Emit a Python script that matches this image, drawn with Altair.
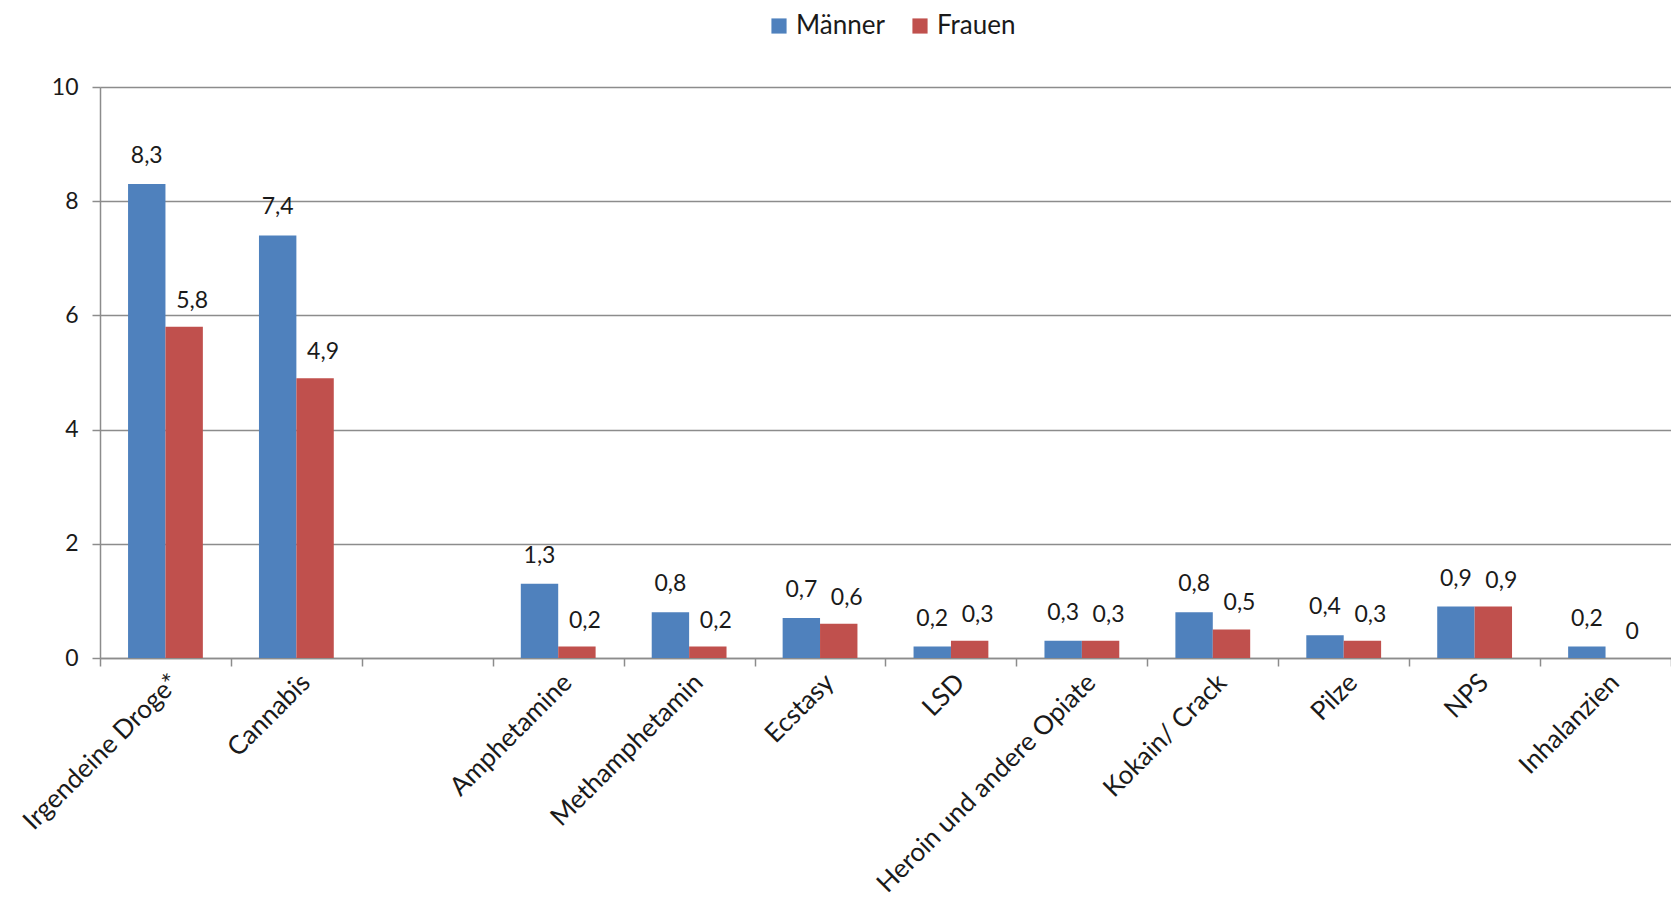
import altair as alt
import pandas as pd

# Kategorien (die leere Kategorie trennt "Cannabis" von den Einzelsubstanzen)
categories = [
    "Irgendeine Droge*", "Cannabis", " ", "Amphetamine", "Methamphetamin",
    "Ecstasy", "LSD", "Heroin und andere Opiate", "Kokain/ Crack",
    "Pilze", "NPS", "Inhalanzien",
]
maenner = [8.3, 7.4, None, 1.3, 0.8, 0.7, 0.2, 0.3, 0.8, 0.4, 0.9, 0.2]
frauen = [5.8, 4.9, None, 0.2, 0.2, 0.6, 0.3, 0.3, 0.5, 0.3, 0.9, 0.0]
series = ["Männer", "Frauen"]
colors = ["#4F81BD", "#C0504D"]
y_ticks = [0, 2, 4, 6, 8, 10]

rows = []
for cat, m, f in zip(categories, maenner, frauen):
    for name, val in zip(series, (m, f)):
        if val is not None:
            rows.append({"Kategorie": cat, "Geschlecht": name, "Wert": val})
df = pd.DataFrame(rows)

FONT = "Lato"
TEXT = "#1a1a1a"
GRID = "#8c8c8c"

x_enc = alt.X(
    "Kategorie:N",
    sort=categories,
    scale=alt.Scale(domain=categories, paddingInner=0, paddingOuter=0),
    axis=alt.Axis(
        title=None,
        labelAngle=-45,
        labelFontSize=26,
        labelFont=FONT,
        labelColor=TEXT,
        labelPadding=3,
        tickBand="extent",
        ticks=True,
        tickSize=8,
        tickColor=GRID,
        tickWidth=1.5,
        domainColor=GRID,
        domainWidth=1.5,
        labelOverlap=False,
        labelLimit=400,
        grid=False,
    ),
)
xoff_enc = alt.XOffset(
    "Geschlecht:N",
    sort=series,
    scale=alt.Scale(domain=series, paddingInner=0, paddingOuter=0.75),
)
y_enc = alt.Y(
    "Wert:Q",
    scale=alt.Scale(domain=[0, 10], nice=False),
    axis=alt.Axis(
        title=None,
        values=y_ticks,
        labelFontSize=23,
        labelFont=FONT,
        labelColor=TEXT,
        labelPadding=14,
        tickSize=8,
        tickColor=GRID,
        tickWidth=1.5,
        domainColor=GRID,
        domainWidth=1.5,
        gridColor=GRID,
        gridWidth=1.5,
    ),
)
color_enc = alt.Color(
    "Geschlecht:N",
    sort=series,
    scale=alt.Scale(domain=series, range=colors),
    legend=alt.Legend(
        title=None,
        orient="none",
        direction="horizontal",
        legendX=666,
        legendY=-74,
        symbolType="square",
        symbolSize=230,
        symbolStrokeWidth=0,
        labelFont=FONT,
        labelFontSize=26,
        labelColor=TEXT,
        labelOffset=4,
        columnPadding=22,
        padding=0,
    ),
)

bars = alt.Chart(df).mark_bar().encode(
    x=x_enc, xOffset=xoff_enc, y=y_enc, color=color_enc
)

label_base = alt.Chart(df).transform_calculate(
    Beschriftung="replace(format(datum.Wert, '.1~f'), '.', ',')"
)

# Werte über den Balken; die Frauen-Beschriftungen leicht nach rechts versetzt
labels_m = (
    label_base.transform_filter(alt.datum.Geschlecht == "Männer")
    .mark_text(baseline="bottom", dy=-16, font=FONT, fontSize=23, color=TEXT)
    .encode(x=x_enc, xOffset=xoff_enc, y=y_enc, text="Beschriftung:N")
)
labels_f = (
    label_base.transform_filter(alt.datum.Geschlecht == "Frauen")
    .mark_text(baseline="bottom", dx=8, dy=-14, font=FONT, fontSize=23, color=TEXT)
    .encode(x=x_enc, xOffset=xoff_enc, y=y_enc, text="Beschriftung:N")
)

chart = (
    alt.layer(bars, labels_m, labels_f)
    .properties(
        width=1571,
        height=571,
        autosize=alt.AutoSizeParams(type="none"),
        padding={"left": 100, "top": 87, "right": 0, "bottom": 242},
    )
    .configure_view(stroke=None)
    .configure(background="white")
)

chart.save("out.html", embed_options={"renderer": "svg", "actions": False})
